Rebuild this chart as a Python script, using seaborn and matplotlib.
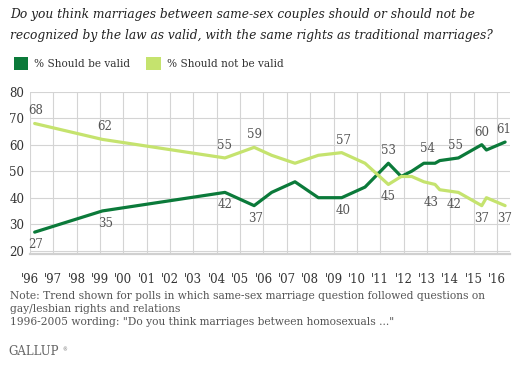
import matplotlib
matplotlib.use("Agg")
import matplotlib.pyplot as plt
from matplotlib.patches import Patch
import pandas as pd
import seaborn as sns

# poll dates (decimal years) and results
dates = [1996.2, 1999.1, 2004.35, 2005.6, 2006.35, 2007.35, 2008.35, 2009.35,
         2010.35, 2011.35, 2011.9, 2012.35, 2012.87, 2013.35, 2013.55,
         2014.35, 2015.35, 2015.55, 2016.35]
should_be_valid = [27, 35, 42, 37, 42, 46, 40, 40, 44, 53, 48, 50, 53, 53, 54,
                   55, 60, 58, 61]
should_not_be_valid = [68, 62, 55, 59, 56, 53, 56, 57, 53, 45, 48, 48, 46, 45,
                       43, 42, 37, 40, 37]
series_names = ["% Should be valid", "% Should not be valid"]
year_ticks = list(range(1996, 2017))
year_labels = ["'" + str(y)[2:] for y in year_ticks]
y_ticks = [20, 30, 40, 50, 60, 70, 80]

title = ("Do you think marriages between same-sex couples should or should not be\n"
         "recognized by the law as valid, with the same rights as traditional marriages?")
note = ("Note: Trend shown for polls in which same-sex marriage question followed questions on\n"
        "gay/lesbian rights and relations\n"
        "1996-2005 wording: \"Do you think marriages between homosexuals ...\"")

DARK = "#0b7a3a"
LIGHT = "#c5e36e"

sns.set_style("white")
plt.rcParams["font.family"] = ["DejaVu Serif"]

df = pd.DataFrame({"date": dates, series_names[0]: should_be_valid,
                   series_names[1]: should_not_be_valid})
df = df.melt("date", var_name="series", value_name="pct")

fig = plt.figure(figsize=(5.14, 3.84), dpi=100)
ax = fig.add_axes([30 / 514, 1 - 254 / 384, 480 / 514, (254 - 91.7) / 384])

sns.lineplot(data=df, x="date", y="pct", hue="series", hue_order=series_names,
             palette=[DARK, LIGHT], linewidth=2.3, legend=False, ax=ax, zorder=3)

ax.set_xlim(1996, 2016.56)
ax.set_ylim(18.75, 80)
ax.set_xticks(year_ticks)
ax.set_xticklabels(year_labels)
ax.set_yticks(y_ticks)
ax.grid(True, color="#d4d4d4", linewidth=0.8)
ax.tick_params(axis="both", length=0, labelsize=8.5, colors="#333333")
ax.tick_params(axis="x", pad=14)
ax.tick_params(axis="y", pad=4)
ax.set_xlabel("")
ax.set_ylabel("")
for s in ["top", "right", "left"]:
    ax.spines[s].set_visible(False)
ax.spines["bottom"].set_color("#d0d0d0")
ax.spines["bottom"].set_linewidth(1.6)

# data labels: (index, vertical side, horizontal nudge in points)
valid_marks = [(0, -1, 1), (1, -1, 2), (2, -1, 0), (3, -1, 1), (7, -1, 1),
               (9, 1, 0), (14, 1, -9), (15, 1, -2), (16, 1, 0), (18, 1, -1)]
not_valid_marks = [(0, 1, 1), (1, 1, 2), (2, 1, 0), (3, 1, 0), (7, 1, 1),
                   (9, -1, 0), (14, -1, -6), (15, -1, -3), (16, -1, 0), (18, -1, 0)]
for values, marks in [(should_be_valid, valid_marks),
                      (should_not_be_valid, not_valid_marks)]:
    for i, side, dx in marks:
        ax.annotate(str(values[i]), (dates[i], values[i]),
                    xytext=(dx, 9 * side), textcoords="offset points",
                    ha="center", va="center", fontsize=8.5, color="#555555",
                    zorder=4)

fig.text(10 / 514, 1 - 8 / 384, title, ha="left", va="top", fontsize=8.8,
         style="italic", color="#222222", linespacing=1.8)

handles = [Patch(facecolor=DARK, edgecolor="none"),
           Patch(facecolor=LIGHT, edgecolor="none")]
fig.legend(handles, series_names, loc="upper left",
           bbox_to_anchor=(4 / 514, 1 - 48 / 384), ncol=2, frameon=False,
           fontsize=7.6, handlelength=1.4, handleheight=1.5, handletextpad=0.55,
           columnspacing=1.5, labelcolor="#333333")

fig.text(10 / 514, 1 - 291 / 384, note, ha="left", va="top", fontsize=7.7,
         color="#555555", linespacing=1.35)
fig.text(8 / 514, 1 - 358 / 384, "GALLUP", ha="left", va="bottom", fontsize=8.5,
         color="#666666")
fig.text(62 / 514, 1 - 350 / 384, "\u00ae", ha="left", va="center", fontsize=3.5,
         color="#666666")

fig.savefig("out.png", dpi=100)
